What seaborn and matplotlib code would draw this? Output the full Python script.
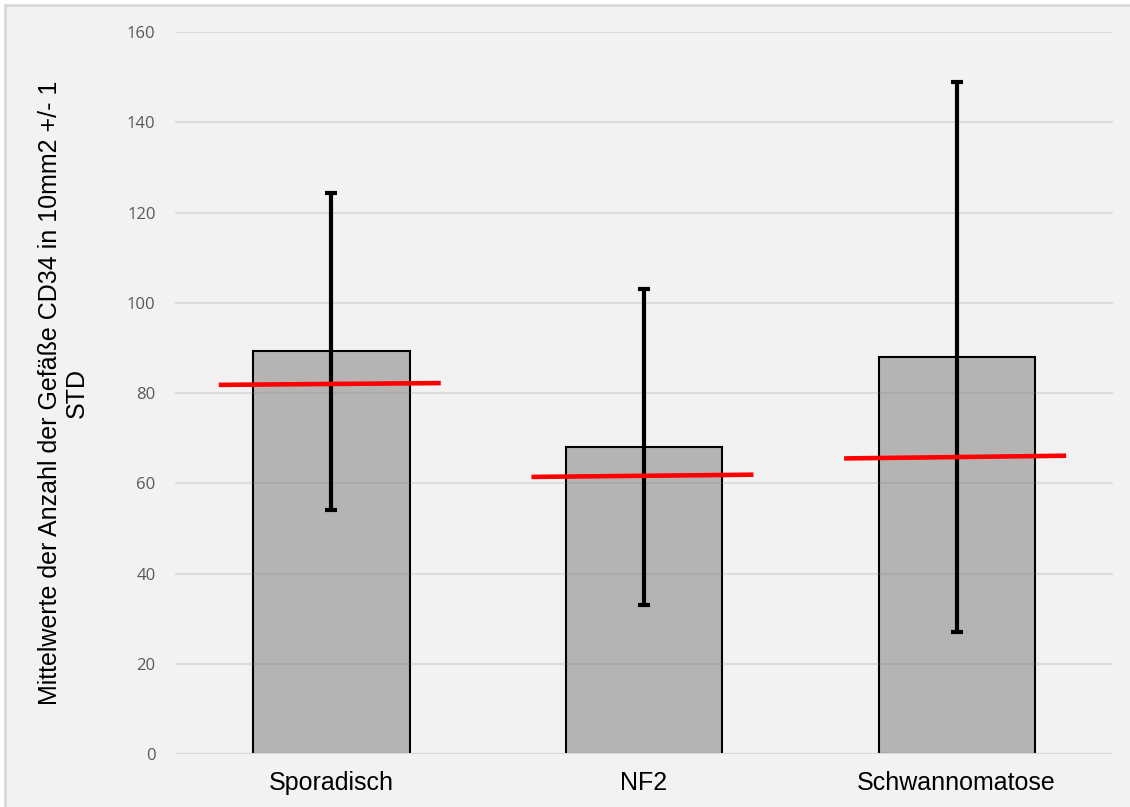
import matplotlib
matplotlib.use("Agg")
import matplotlib.pyplot as plt
from matplotlib.patches import Rectangle
import seaborn as sns
import pandas as pd

# Group means, standard deviations and the red reference line (left/right end values)
groups = ["Sporadisch", "NF2", "Schwannomatose"]
means = [89.2, 68.0, 88.0]
stds = [35.1, 35.0, 61.0]
ref_left = [81.8, 61.4, 65.5]
ref_right = [82.2, 61.9, 66.1]
yticks = [0, 20, 40, 60, 80, 100, 120, 140, 160]
ylabel = "Mittelwerte der Anzahl der Gefäße CD34 in 10mm2 +/- 1\nSTD"

df = pd.DataFrame({"group": groups, "mean": means, "std": stds})

sns.set_theme(style="white")
plt.rcParams["font.family"] = ["Liberation Sans", "DejaVu Sans"]

W, H = 1130, 807
fig = plt.figure(figsize=(W / 100, H / 100), dpi=100)
fig.patch.set_facecolor("white")
# chart area frame
fig.patches.append(Rectangle((5 / W, -0.05), 1.2, (H - 5) / H + 0.05,
                             transform=fig.transFigure, facecolor="#f2f2f2",
                             edgecolor="#d9d9d9", linewidth=2, zorder=-10))

ax = fig.add_axes([175 / W, 53 / H, (1113 - 175) / W, (754 - 32) / H])
ax.set_facecolor("none")

sns.barplot(data=df, x="group", y="mean", ax=ax, color="#b5b4b2",
            saturation=1, width=0.5, edgecolor="black", linewidth=1.5,
            errorbar=None, zorder=2)

xs = range(len(groups))
ax.errorbar(list(xs), means, yerr=stds, fmt="none", ecolor="black",
            elinewidth=3.0, capsize=4.5, capthick=3.0, zorder=4)

for i in xs:
    ax.plot([i - 0.36, i + 0.35], [ref_left[i], ref_right[i]],
            color="#ff0000", linewidth=3.3, solid_capstyle="butt", zorder=5)

ax.set_ylim(0, 160)
ax.set_xlim(-0.5, 2.5)
ax.set_yticks(yticks)
ax.yaxis.grid(True, color="#858585", alpha=0.22, linewidth=1.3, zorder=3)
ax.set_axisbelow(False)
# baseline in the light grid colour, over the bars' lower edges
ax.axhline(0, color="#d9d9d9", linewidth=2.2, zorder=6)
for s in ax.spines.values():
    s.set_visible(False)

ax.tick_params(axis="y", length=0, pad=14, labelsize=12, labelcolor="#595959")
for lab in ax.get_yticklabels():
    lab.set_family(["Open Sans", "DejaVu Sans"])
ax.tick_params(axis="x", length=0, pad=12, labelsize=18, labelcolor="black")

ax.set_xlabel("")
ax.set_ylabel(ylabel, fontsize=18, color="black", linespacing=1.15)
ax.yaxis.set_label_coords(-0.092, 0.5)

fig.savefig("out.png", dpi=100, facecolor=fig.get_facecolor())
